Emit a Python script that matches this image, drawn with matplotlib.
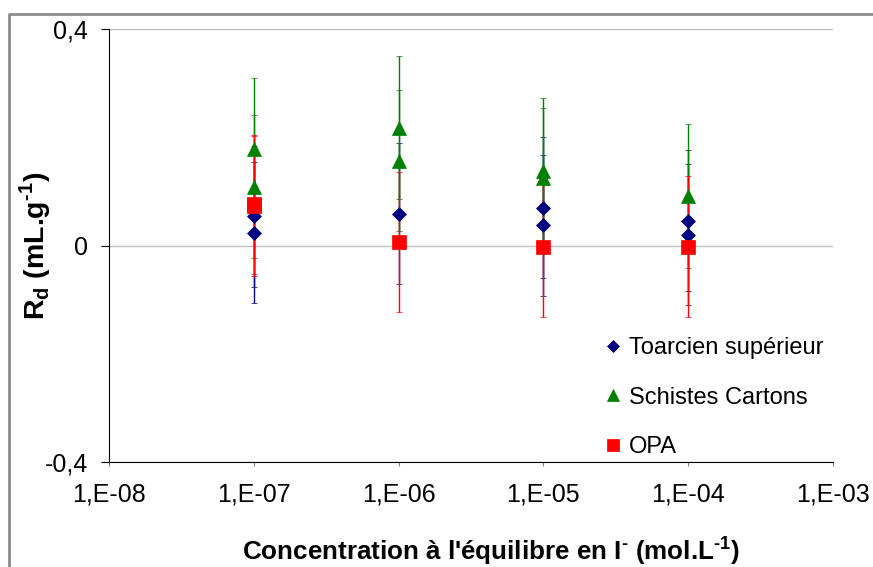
import matplotlib
matplotlib.use("Agg")
import matplotlib.pyplot as plt
from matplotlib.lines import Line2D
from matplotlib.ticker import FixedLocator, FixedFormatter, NullLocator

plt.rcParams['font.family'] = ['Liberation Sans', 'DejaVu Sans']
plt.rcParams['mathtext.fontset'] = 'custom'
plt.rcParams['mathtext.rm'] = 'Liberation Sans'
plt.rcParams['mathtext.bf'] = 'Liberation Sans:bold'

# data
toarcien_x = [1e-7, 1e-7, 1e-6, 1e-5, 1e-5, 1e-4, 1e-4]
toarcien_y = [0.054, 0.024, 0.059, 0.070, 0.037, 0.046, 0.020]
toarcien_err = [0.130, 0.131, 0.131, 0.130, 0.130, 0.130, 0.130]

schistes_x = [1e-7, 1e-7, 1e-6, 1e-6, 1e-5, 1e-5, 1e-4]
schistes_y = [0.179, 0.109, 0.218, 0.157, 0.138, 0.124, 0.091]
schistes_err = [0.131, 0.133, 0.133, 0.131, 0.134, 0.130, 0.133]

opa_x = [1e-7, 1e-7, 1e-6, 1e-5, 1e-4]
opa_y = [0.076, 0.073, 0.006, -0.002, -0.002]
opa_err = [0.129, 0.129, 0.129, 0.131, 0.131]

x_ticks = [1e-8, 1e-7, 1e-6, 1e-5, 1e-4, 1e-3]
x_labels = ['1,E-08', '1,E-07', '1,E-06', '1,E-05', '1,E-04', '1,E-03']
y_ticks = [-0.4, 0, 0.4]
y_labels = ['-0,4', '0', '0,4']

series = [
    ("Toarcien supérieur", toarcien_x, toarcien_y, toarcien_err, 'D', '#000080', 7.2),
    ("Schistes Cartons", schistes_x, schistes_y, schistes_err, '^', '#008000', 10),
    ("OPA", opa_x, opa_y, opa_err, 's', '#FF0000', 9.5),
]

fig = plt.figure(figsize=(8.73, 5.67), dpi=100)
ax = fig.add_axes([109 / 873, 1 - 462 / 567, (833 - 109) / 873, (462 - 29) / 567])

# gray frame of the original picture (only top and left edges visible)
fig.add_artist(Line2D([9 / 873, 9 / 873, 1.0], [0.0, 1 - 14 / 567, 1 - 14 / 567],
                      transform=fig.transFigure, color='#8c8c8c', lw=2))

handles = []
for name, xs, ys, errs, mk, col, ms in series:
    ax.errorbar(xs, ys, yerr=errs, fmt=mk, color=col, ecolor=col, elinewidth=1,
                capsize=2.5, capthick=1, markersize=ms, markeredgewidth=0.5,
                zorder=3)
    handles.append(Line2D([], [], ls='none', marker=mk, color=col,
                          markersize=ms * 0.85, markeredgewidth=0.5, label=name))

ax.set_xscale('log')
ax.set_xlim(1e-8, 1e-3)
ax.set_ylim(-0.4, 0.4)

ax.xaxis.set_major_locator(FixedLocator(x_ticks))
ax.xaxis.set_major_formatter(FixedFormatter(x_labels))
ax.xaxis.set_minor_locator(NullLocator())
ax.yaxis.set_major_locator(FixedLocator(y_ticks))
ax.yaxis.set_major_formatter(FixedFormatter(y_labels))

for s in ['top', 'right']:
    ax.spines[s].set_visible(False)

ax.grid(axis='y', color='#bfbfbf', lw=1, zorder=0)
ax.set_axisbelow(True)

ax.tick_params(axis='x', direction='out', length=3, color='#808080', pad=12, labelsize=18)
ax.tick_params(axis='y', direction='out', length=6, color='black', pad=9, labelsize=18)

ax.set_xlabel("Concentration à l'équilibre en I$^{\\mathbf{\u2010}}$ (mol.L$^{\\mathbf{\u20101}}$)",
              fontsize=18.7, fontweight='bold')
ax.xaxis.set_label_coords((491 - 109) / (833 - 109), (462 - 534) / (462 - 29))
ax.set_ylabel("R$_{\\mathbf{d}}$ (mL.g$^{\\mathbf{\u20101}}$)", fontsize=20.5, fontweight='bold')
ax.yaxis.set_label_coords((53 - 109) / (833 - 109), 0.5)

ax.legend(handles=handles, loc='upper left', bbox_to_anchor=(605 / 873, 1 - 337 / 567),
          bbox_transform=fig.transFigure, frameon=False, fontsize=17,
          handlelength=0.7, handletextpad=0.3, labelspacing=1.17,
          borderpad=0, borderaxespad=0)

fig.savefig('out.png', dpi=100)
